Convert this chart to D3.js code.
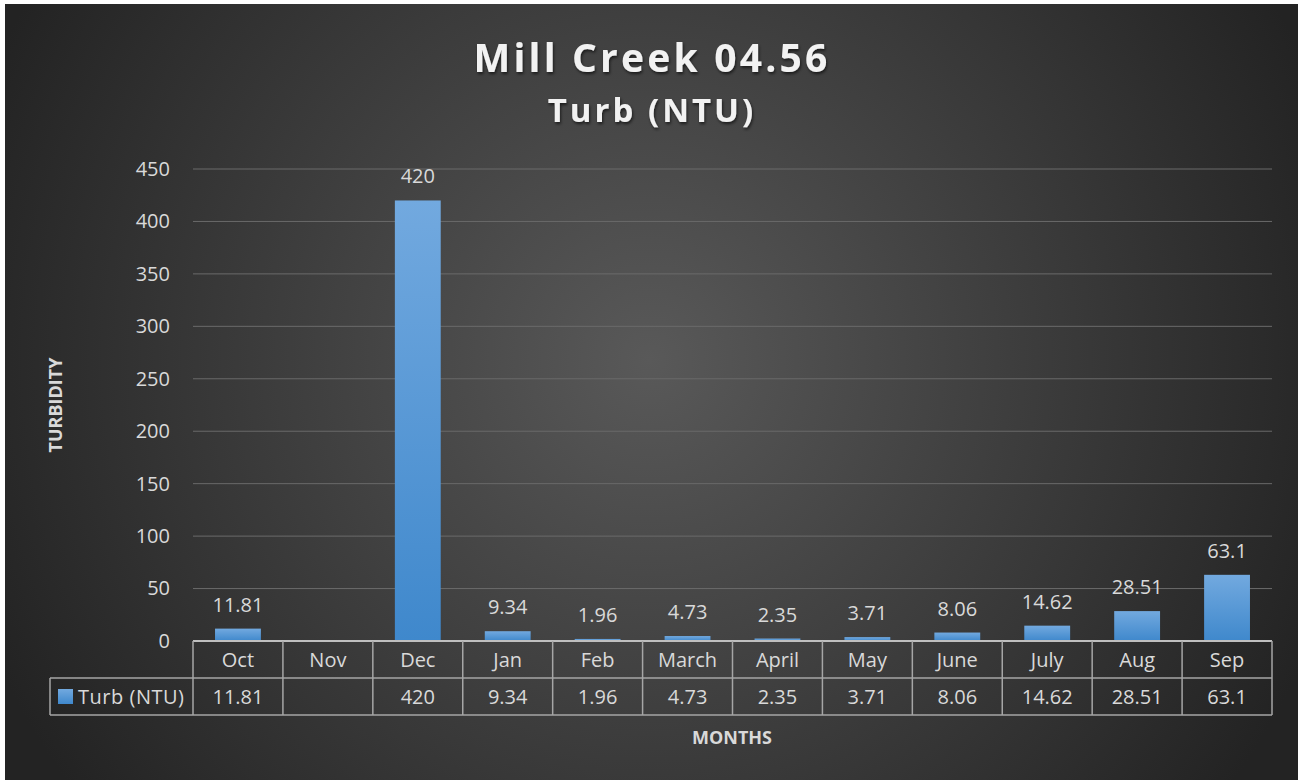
<!DOCTYPE html>
<html><head><meta charset="utf-8">
<script src="https://cdn.jsdelivr.net/npm/d3@7"></script>
<style>html,body{margin:0;padding:0;background:#fff;overflow:hidden}</style>
</head><body>
<svg id="c" width="1298" height="780"></svg>
<script>
const months = ["Oct","Nov","Dec","Jan","Feb","March","April","May","June","July","Aug","Sep"];
const turb = [11.81, null, 420, 9.34, 1.96, 4.73, 2.35, 3.71, 8.06, 14.62, 28.51, 63.1];
const turbLabels = ["11.81","","420","9.34","1.96","4.73","2.35","3.71","8.06","14.62","28.51","63.1"];
const yTicks = [0,50,100,150,200,250,300,350,400,450];
const seriesName = "Turb (NTU)";

const svg = d3.select("#c");
const defs = svg.append("defs");
const rg = defs.append("radialGradient").attr("id","bg")
  .attr("gradientUnits","userSpaceOnUse").attr("cx",650).attr("cy",360).attr("r",720);
rg.append("stop").attr("offset","0%").attr("stop-color","#595959");
rg.append("stop").attr("offset","100%").attr("stop-color","#232323");
const bg = defs.append("linearGradient").attr("id","bar").attr("x1",0).attr("y1",0).attr("x2",0).attr("y2",1);
bg.append("stop").attr("offset","0%").attr("stop-color","#72a9df");
bg.append("stop").attr("offset","100%").attr("stop-color","#3f88cc");
const sh = defs.append("filter").attr("id","ts").attr("x","-10%").attr("y","-20%").attr("width","120%").attr("height","150%");
sh.append("feDropShadow").attr("dx",1).attr("dy",2).attr("stdDeviation",1.5).attr("flood-color","#000").attr("flood-opacity",0.6);

svg.append("rect").attr("x",5).attr("y",4).attr("width",1293).attr("height",776).attr("fill","url(#bg)");

const L = 193, R = 1272, T = 169, B = 641;
const x = d3.scaleBand().domain(months).range([L,R]).paddingInner(0.49).paddingOuter(0.245);
const xc = d3.scaleBand().domain(months).range([L,R]);
const y = d3.scaleLinear().domain([0,450]).range([B,T]);

const font = "'Open Sans', 'Noto Sans', sans-serif";
const fs = 20;

// gridlines
svg.append("g").selectAll("line").data(yTicks.filter(d=>d>0)).join("line")
  .attr("x1",L).attr("x2",R).attr("y1",d=>y(d)).attr("y2",d=>y(d))
  .attr("stroke","#6a6a6a").attr("stroke-width",1);

// y axis labels via d3 axis
const yAxis = d3.axisLeft(y).tickValues(yTicks).tickSize(0).tickPadding(23);
const ga = svg.append("g").attr("transform",`translate(${L},0)`).call(yAxis);
ga.select(".domain").remove();
ga.selectAll("text").attr("font-family",font).attr("font-size",fs).attr("fill","#d9d9d9");

// bars
svg.append("g").selectAll("rect").data(months.map((m,i)=>({m,v:turb[i]})).filter(d=>d.v!=null)).join("rect")
  .attr("x",d=>x(d.m)).attr("width",x.bandwidth())
  .attr("y",d=>y(d.v)).attr("height",d=>B-y(d.v))
  .attr("fill","url(#bar)");

// data labels
svg.append("g").selectAll("text").data(months.map((m,i)=>({m,v:turb[i],t:turbLabels[i]})).filter(d=>d.v!=null)).join("text")
  .attr("x",d=>xc(d.m)+xc.bandwidth()/2).attr("y",d=>y(d.v)-17)
  .attr("text-anchor","middle").attr("font-family",font).attr("font-size",fs).attr("fill","#d9d9d9")
  .text(d=>d.t);

// table
const rowH = 37;
const tg = svg.append("g").attr("fill","none").attr("stroke","#a6a6a6").attr("stroke-width",1.5);
tg.append("line").attr("x1",L).attr("x2",R).attr("y1",B).attr("y2",B).attr("stroke","#bfbfbf").attr("stroke-width",2);
tg.append("line").attr("x1",50).attr("x2",R).attr("y1",B+rowH).attr("y2",B+rowH);
tg.append("line").attr("x1",50).attr("x2",R).attr("y1",B+2*rowH).attr("y2",B+2*rowH);
tg.append("line").attr("x1",50).attr("x2",50).attr("y1",B+rowH).attr("y2",B+2*rowH);
tg.selectAll("line.v").data(months.concat(["_end"])).join("line").attr("class","v")
  .attr("x1",(d,i)=>L+i*xc.bandwidth()).attr("x2",(d,i)=>L+i*xc.bandwidth())
  .attr("y1",B).attr("y2",B+2*rowH);

svg.append("g").selectAll("text").data(months).join("text")
  .attr("x",d=>xc(d)+xc.bandwidth()/2).attr("y",B+rowH/2+7)
  .attr("text-anchor","middle").attr("font-family",font).attr("font-size",fs).attr("fill","#d9d9d9")
  .text(d=>d);
svg.append("g").selectAll("text").data(months.map((m,i)=>({m,t:turbLabels[i]}))).join("text")
  .attr("x",d=>xc(d.m)+xc.bandwidth()/2).attr("y",B+rowH*1.5+7)
  .attr("text-anchor","middle").attr("font-family",font).attr("font-size",fs).attr("fill","#d9d9d9")
  .text(d=>d.t);
svg.append("rect").attr("x",58).attr("y",B+rowH+11).attr("width",15).attr("height",15).attr("fill","url(#bar)");
svg.append("text").attr("x",78).attr("y",B+rowH*1.5+7).attr("font-family",font).attr("font-size",fs)
  .attr("textLength",106).attr("fill","#d9d9d9").text(seriesName);

// titles
svg.append("text").attr("x",652).attr("y",72).attr("text-anchor","middle").attr("font-family",font)
  .attr("font-weight","bold").attr("font-size",39).attr("letter-spacing",3.2).attr("fill","#f2f2f2")
  .attr("filter","url(#ts)").text("Mill Creek 04.56");
svg.append("text").attr("x",652).attr("y",122).attr("text-anchor","middle").attr("font-family",font)
  .attr("font-weight","bold").attr("font-size",33).attr("letter-spacing",3).attr("fill","#f2f2f2")
  .attr("filter","url(#ts)").text("Turb (NTU)");

svg.append("text").attr("transform","translate(62,405) rotate(-90)").attr("text-anchor","middle")
  .attr("font-family",font).attr("font-weight","bold").attr("font-size",18).attr("fill","#d9d9d9").text("TURBIDITY");
svg.append("text").attr("x",732).attr("y",744).attr("text-anchor","middle")
  .attr("font-family",font).attr("font-weight","bold").attr("font-size",18).attr("fill","#d9d9d9").text("MONTHS");
</script>
</body></html>
